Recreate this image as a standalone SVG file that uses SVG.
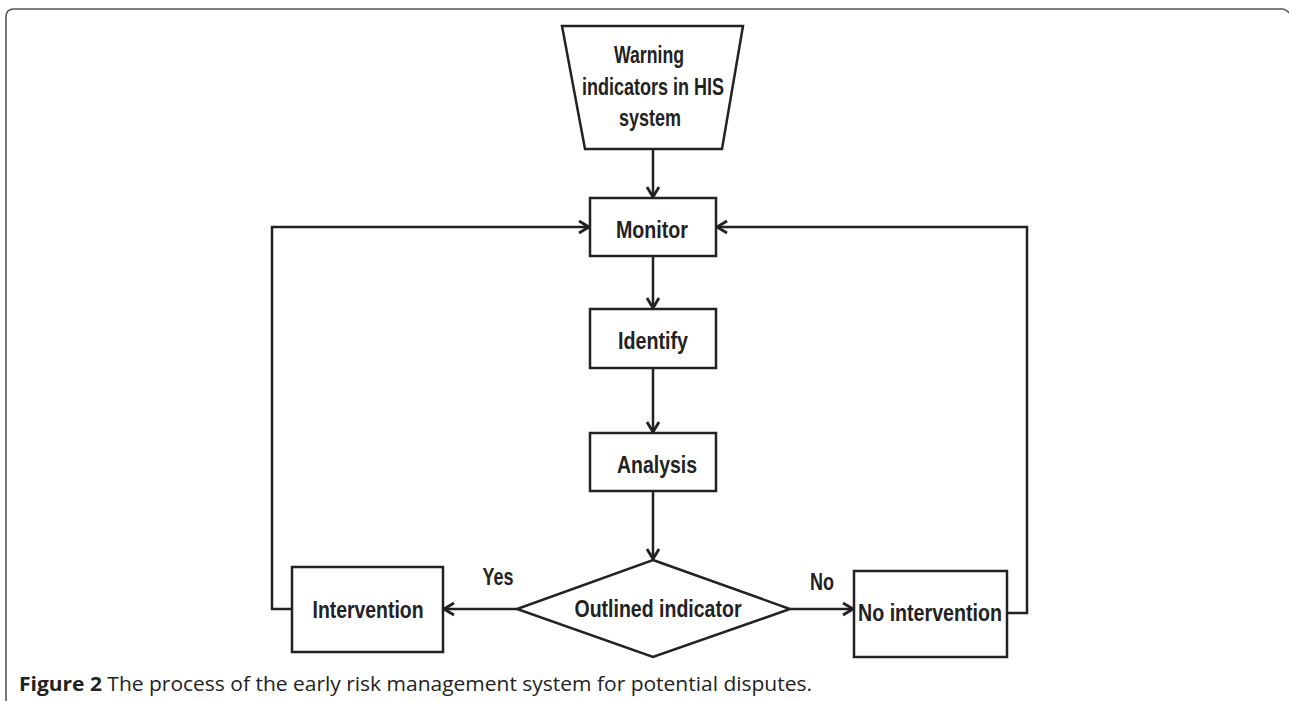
<svg xmlns="http://www.w3.org/2000/svg" width="1289" height="701" viewBox="0 0 1289 701">
<defs>
<marker id="arr" markerUnits="userSpaceOnUse" markerWidth="14" markerHeight="16" viewBox="0 0 14 16" refX="12" refY="8" orient="auto">
<path d="M2,2 L12,8 L2,14" fill="none" stroke="#222" stroke-width="2.8" stroke-linejoin="miter"/>
</marker>
<style>
.box{fill:#fff;stroke:#222;stroke-width:2.5}
.lbl{font-family:"Liberation Sans",Arial,sans-serif;font-weight:bold;font-size:24px;fill:#222;text-anchor:middle}
.edge{fill:none;stroke:#222;stroke-width:2.5}
.cap{font-family:"Open Sans","Noto Sans",sans-serif;font-size:20px;fill:#222}
</style>
</defs>
<rect width="1289" height="701" fill="#fff"/>
<path d="M6,701 L6,17 Q6,9 14,9 L1282,9 Q1286,9 1289,13" fill="none" stroke="#555" stroke-width="1.6"/>

<g id="connectors">
<line class="edge" x1="653" y1="149" x2="653" y2="197" marker-end="url(#arr)"/>
<line class="edge" x1="653" y1="256" x2="653" y2="308" marker-end="url(#arr)"/>
<line class="edge" x1="653" y1="368" x2="653" y2="432" marker-end="url(#arr)"/>
<line class="edge" x1="653" y1="491" x2="653" y2="559" marker-end="url(#arr)"/>
<line class="edge" x1="517" y1="609" x2="444" y2="609" marker-end="url(#arr)"/>
<line class="edge" x1="790" y1="609" x2="853" y2="609" marker-end="url(#arr)"/>
<polyline class="edge" points="292,609 272,609 272,227 589,227" marker-end="url(#arr)"/>
<polyline class="edge" points="1007,613 1027,613 1027,227 717,227" marker-end="url(#arr)"/>
<text class="lbl" x="498" y="585" textLength="31" lengthAdjust="spacingAndGlyphs">Yes</text>
<text class="lbl" x="822" y="590" textLength="24" lengthAdjust="spacingAndGlyphs">No</text>
</g>

<g id="warning">
<polygon class="box" points="562,26 743,26 722,149 585,149"/>
<text class="lbl" x="649" y="63" textLength="70" lengthAdjust="spacingAndGlyphs">Warning</text>
<text class="lbl" x="653" y="95" textLength="142" lengthAdjust="spacingAndGlyphs">indicators in HIS</text>
<text class="lbl" x="650" y="126" textLength="62" lengthAdjust="spacingAndGlyphs">system</text>
</g>

<g id="monitor">
<rect class="box" x="590" y="198" width="126" height="58"/>
<text class="lbl" x="652" y="238" textLength="72" lengthAdjust="spacingAndGlyphs">Monitor</text>
</g>

<g id="identify">
<rect class="box" x="590" y="309" width="126" height="59"/>
<text class="lbl" x="653" y="349" textLength="70" lengthAdjust="spacingAndGlyphs">Identify</text>
</g>

<g id="analysis">
<rect class="box" x="590" y="433" width="126" height="58"/>
<text class="lbl" x="657" y="473" textLength="80" lengthAdjust="spacingAndGlyphs">Analysis</text>
</g>

<g id="outlined">
<polygon class="box" points="653,560 790,609 653,657 517,609"/>
<text class="lbl" x="658" y="617" textLength="167" lengthAdjust="spacingAndGlyphs">Outlined indicator</text>
</g>

<g id="intervention">
<rect class="box" x="292" y="567" width="151" height="85"/>
<text class="lbl" x="368" y="618" textLength="111" lengthAdjust="spacingAndGlyphs">Intervention</text>
</g>

<g id="nointervention">
<rect class="box" x="854" y="571" width="153" height="86"/>
<text class="lbl" x="930" y="621" textLength="144" lengthAdjust="spacingAndGlyphs">No intervention</text>
</g>

<text class="cap" x="19" y="691" textLength="793" lengthAdjust="spacingAndGlyphs"><tspan font-weight="bold">Figure 2</tspan> The process of the early risk management system for potential disputes.</text>
</svg>
